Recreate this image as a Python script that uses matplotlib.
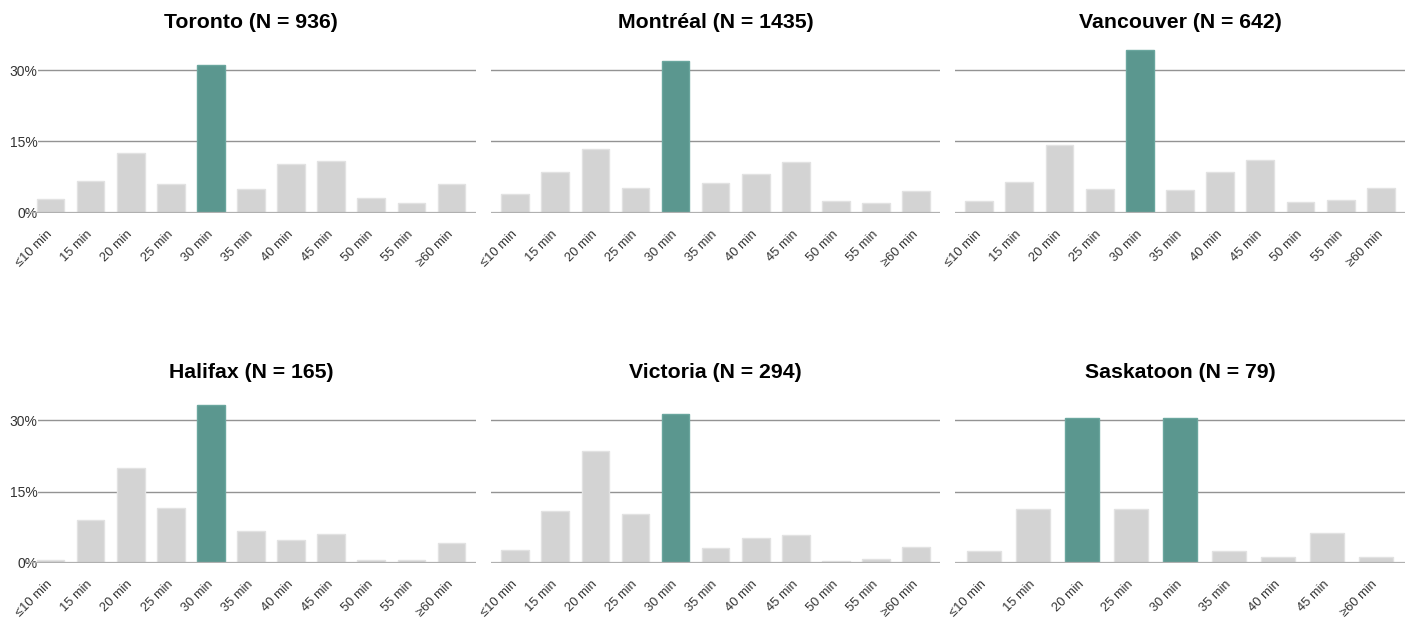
import matplotlib.pyplot as plt
import numpy as np

plt.rcParams['font.family'] = ['Liberation Sans', 'DejaVu Sans']

# categorias
cats = ['≤10 min', '15 min', '20 min', '25 min', '30 min', '35 min',
        '40 min', '45 min', '50 min', '55 min', '≥60 min']
cats_sk = ['≤10 min', '15 min', '20 min', '25 min', '30 min', '35 min',
           '40 min', '45 min', '≥60 min']

# valores (%)
toronto = [2.8, 6.7, 12.5, 6.0, 31.2, 5.0, 10.3, 10.9, 3.1, 2.0, 6.0]
montreal = [3.9, 8.5, 13.4, 5.1, 32.0, 6.2, 8.1, 10.7, 2.5, 2.0, 4.5]
vancouver = [2.5, 6.4, 14.2, 4.9, 34.2, 4.7, 8.5, 11.0, 2.2, 2.7, 5.1]
halifax = [0.6, 9.1, 20.0, 11.5, 33.3, 6.7, 4.8, 6.1, 0.6, 0.6, 4.2]
victoria = [2.7, 10.8, 23.5, 10.2, 31.3, 3.0, 5.1, 5.8, 0.3, 0.8, 3.4]
saskatoon = [2.5, 11.4, 30.4, 11.4, 30.4, 2.5, 1.3, 6.3, 1.3]

titulos = ['Toronto (N = 936)', 'Montréal (N = 1435)', 'Vancouver (N = 642)',
           'Halifax (N = 165)', 'Victoria (N = 294)', 'Saskatoon (N = 79)']
dados = [toronto, montreal, vancouver, halifax, victoria, saskatoon]
rotulos = [cats, cats, cats, cats, cats, cats_sk]
destaque = [['30 min'], ['30 min'], ['30 min'], ['30 min'], ['30 min'],
            ['20 min', '30 min']]

cinza = '#d3d3d3'
verde = '#5b978f'

W, H = 1411, 618
fig = plt.figure(figsize=(W / 100, H / 100), dpi=100)

# posicoes em pixels: (esquerda, largura) e linha do zero
colunas = [(26.4, 449.2), (491.1, 449.0), (955.0, 450.0)]
zeros = [212.7, 562.7]
ymax = 36
alt = ymax * 71.2 / 15

for k in range(6):
    lin, col = divmod(k, 3)
    x0, w = colunas[col]
    y0 = zeros[lin]
    ax = fig.add_axes([x0 / W, (H - y0) / H, w / W, alt / H])
    vals = dados[k]
    labs = rotulos[k]
    n = len(vals)
    x = np.arange(n)
    cores = [verde if labs[i] in destaque[k] else cinza for i in range(n)]
    bordas = ['#6aa69e' if labs[i] in destaque[k] else '#e2e2e2' for i in range(n)]
    ax.bar(x, vals, width=0.69, color=cores, edgecolor=bordas, linewidth=1, zorder=2)
    ax.set_xlim(-0.6, n - 1 + 0.6)
    ax.set_ylim(0, ymax)
    ax.set_yticks([0, 15, 30])
    ax.grid(axis='y', color='#939393', linewidth=1)
    ax.set_axisbelow(True)
    ax.axhline(0, color='#b0b0b0', linewidth=1.6, zorder=3)
    for s in ax.spines.values():
        s.set_visible(False)
    ax.tick_params(axis='both', length=0)
    ax.set_xticks(x)
    ax.set_xticklabels(labs, rotation=45, ha='right', va='center',
                       rotation_mode='anchor', fontsize=9.3, color='#333333')
    ax.tick_params(axis='x', pad=14.5)
    if col == 0:
        ax.set_yticklabels(['0%', '15%', '30%'], fontsize=10, color='#333333')
        ax.tick_params(axis='y', pad=-8)
        for t in ax.get_yticklabels():
            t.set_bbox(dict(facecolor='white', edgecolor='none', pad=0.5))
    else:
        ax.set_yticklabels([])
    ax.set_title(titulos[k], fontsize=15.3, fontweight='bold', pad=10)

fig.savefig('out.png', dpi=100)
